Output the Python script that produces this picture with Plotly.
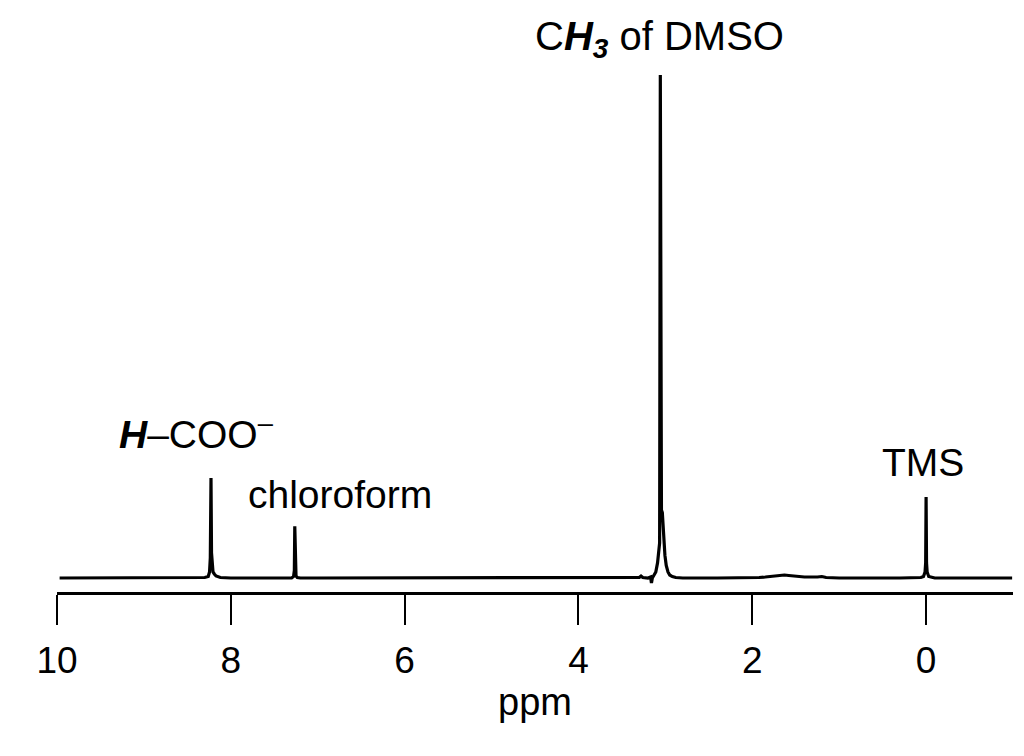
import plotly.graph_objects as go

# Chemical shift (ppm) and relative intensity
ppm = [9.97, 8.40, 8.30, 8.26, 8.245, 8.236, 8.228, 8.222, 8.214, 8.205, 8.19, 8.17, 8.12, 8.00,
       7.40, 7.30, 7.278, 7.269, 7.264, 7.259, 7.250, 7.235, 7.20, 7.00,
       5.00, 3.40, 3.30, 3.28, 3.26, 3.20, 3.17, 3.16, 3.15, 3.13, 3.11, 3.09, 3.075, 3.066,
       3.058, 3.052, 3.045, 3.035, 3.02, 3.005, 2.99, 2.97, 2.95, 2.92, 2.88, 2.80,
       2.40, 2.00, 1.92, 1.85, 1.75, 1.68, 1.63, 1.58, 1.50, 1.40, 1.25, 1.20, 1.15, 1.00,
       0.30, 0.10, 0.06, 0.03, 0.012, 0.005, 0.000, -0.005, -0.012, -0.03, -0.06, -0.10,
       -0.30, -0.99]
intensity = [0.0, 0.0, 0.001, 0.003, 0.012, 0.04, 0.199, 0.05, 0.02, 0.012, 0.008, 0.004, 0.001, 0.0,
             0.0, 0.0, 0.003, 0.015, 0.103, 0.015, 0.004, 0.001, 0.0, 0.0,
             0.0, 0.0, 0.001, 0.004, 0.001, 0.0, 0.002, -0.01, 0.0, 0.006, 0.012, 0.03, 0.05, 0.07,
             1.0, 0.3, 0.135, 0.13, 0.08, 0.045, 0.025, 0.012, 0.006, 0.003, 0.001, 0.0,
             0.0, 0.0, 0.001, 0.002, 0.004, 0.006, 0.006, 0.005, 0.003, 0.002, 0.002, 0.003, 0.001, 0.0,
             0.0, 0.0, 0.001, 0.003, 0.012, 0.03, 0.161, 0.03, 0.012, 0.003, 0.001, 0.0,
             0.0, 0.0]

tick_vals = [10, 8, 6, 4, 2, 0]
tick_text = ["10", "8", "6", "4", "2", "0"]

# Peak labels: text, ppm position, height in intensity units
label_text = ["<b><i>H</i></b>–COO<sup>–</sup>",
              "chloroform",
              "TMS"]
label_ppm = [8.39, 6.74, 0.034]
label_y = [0.292, 0.167, 0.229]

top_label = "C<b><i>H</i></b><sub><b><i>3</i></b></sub> of DMSO"
top_label_ppm = 3.07

FONT = "Liberation Sans, Arial, Helvetica, sans-serif"

fig = go.Figure()
fig.add_trace(go.Scatter(x=ppm, y=intensity, mode="lines",
                         line=dict(color="black", width=3.2),
                         hoverinfo="skip", showlegend=False))

for t, xv, yv in zip(label_text, label_ppm, label_y):
    fig.add_annotation(x=xv, y=yv, xref="x", yref="y", text=t, showarrow=False,
                       xanchor="center", yanchor="middle",
                       font=dict(family=FONT, size=39, color="black"))

fig.add_annotation(x=top_label_ppm, y=1.06, xref="x", yref="paper", text=top_label,
                   showarrow=False, xanchor="center", yanchor="middle",
                   font=dict(family=FONT, size=40, color="black"))

fig.add_shape(type="line", xref="paper", yref="paper", layer="above",
              x0=1.007, x1=1.007, y0=-0.207, y1=-0.270,
              line=dict(color="black", width=3))

fig.update_layout(
    width=1016, height=748,
    margin=dict(l=49, r=11, t=62, b=164, pad=0),
    paper_bgcolor="white", plot_bgcolor="white",
    font=dict(family=FONT, size=37, color="black"),
    xaxis=dict(range=[10, -1], tickvals=tick_vals, ticktext=tick_text,
               showgrid=False, zeroline=False, showline=True, linecolor="black",
               linewidth=3, ticks="outside", ticklen=30, tickwidth=2.4,
               tickcolor="black", ticklabelstandoff=4,
               tickfont=dict(family=FONT, size=37, color="black"),
               title=dict(text="ppm", font=dict(family=FONT, size=38, color="black"),
                          standoff=4)),
    yaxis=dict(range=[-0.0278, 1.0099], visible=False, showgrid=False, zeroline=False),
)

fig.write_html("out.html")
